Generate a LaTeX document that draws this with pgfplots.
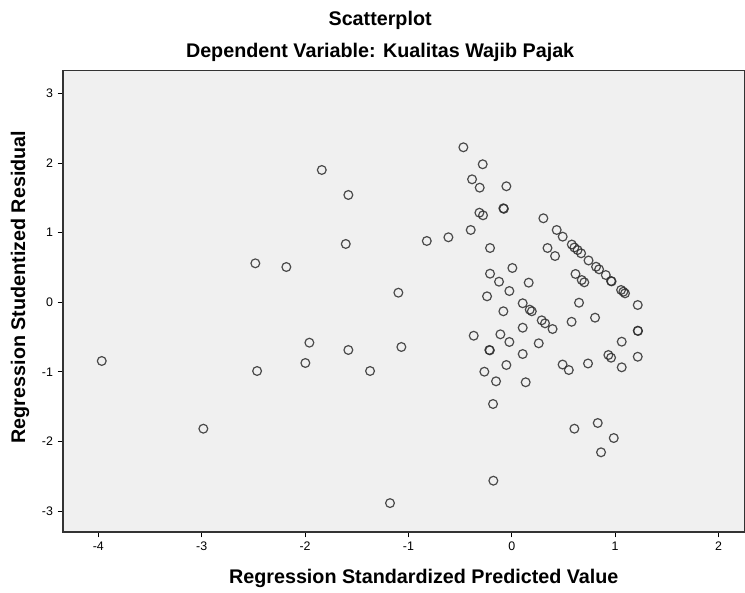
\documentclass[border=0pt]{standalone}
\usepackage{fontspec}
\setmainfont{Liberation Sans}
\usepackage{pgfplots}
\pgfplotsset{compat=1.18}
\definecolor{bgc}{RGB}{240,240,240}
\definecolor{mk}{RGB}{45,45,45}
\begin{document}
\begin{tikzpicture}
\useasboundingbox (-47.25pt,-45pt) rectangle (511.5pt,399pt);
\begin{axis}[
  at={(0,0)}, anchor=south west,
  scale only axis, width=511.5pt, height=346pt,
  xmin=-4.342, xmax=2.257, ymin=-3.300, ymax=3.328,
  xtick={-4,-3,-2,-1,0,1,2}, ytick={-3,-2,-1,0,1,2,3},
  tick align=outside, tick pos=left,
  major tick length=4pt,
  axis background/.style={fill=bgc},
  axis line style={black!80, line width=0.8pt},
  tick style={black, line width=0.8pt},
  ticklabel style={font=\fontsize{9.3}{10}\selectfont},
  /pgf/number format/assume math mode=true,
  clip=false,
  title={Scatterplot},
  title style={font=\bfseries\fontsize{14.8}{16}\selectfont, at={(axis description cs:0.465,1.092)}, anchor=center},
  xlabel={Regression Standardized Predicted Value},
  ylabel={Regression Studentized Residual},
  label style={font=\bfseries\fontsize{14.8}{16}\selectfont},
  xlabel style={at={(axis description cs:0.529,-0.0997)}, anchor=center},
  ylabel style={at={(axis description cs:-0.063,0.531)}, anchor=center},
]
\addplot[only marks, mark=o, mark size=3.3pt, mark options={draw=mk, line width=0.9pt, draw opacity=0.85}] table {
x y
-3.967 -0.843
-2.984 -1.816
-2.481 0.560
-2.464 -0.987
-2.181 0.507
-1.838 1.901
-1.958 -0.580
-1.997 -0.872
-1.581 1.542
-1.606 0.838
-1.581 -0.685
-1.371 -0.987
-1.097 0.138
-1.068 -0.642
-1.178 -2.885
-0.822 0.881
-0.613 0.934
-0.468 2.227
-0.281 1.983
-0.384 1.767
-0.310 1.647
-0.052 1.667
-0.313 1.287
-0.278 1.250
-0.081 1.351
-0.076 1.343
0.306 1.207
0.435 1.039
0.493 0.943
-0.397 1.039
-0.210 0.780
0.346 0.780
0.419 0.665
0.581 0.830
0.606 0.787
0.637 0.751
0.671 0.704
0.743 0.601
0.816 0.511
0.845 0.474
0.910 0.392
0.961 0.306
0.966 0.300
1.058 0.177
1.080 0.152
1.096 0.129
1.219 -0.039
0.617 0.407
0.677 0.320
0.702 0.287
0.006 0.493
-0.210 0.411
-0.123 0.296
0.164 0.282
-0.023 0.162
-0.239 0.086
0.651 -0.006
0.106 -0.014
0.174 -0.106
0.194 -0.129
-0.081 -0.129
0.290 -0.259
0.322 -0.302
0.395 -0.384
0.579 -0.280
0.106 -0.365
-0.110 -0.460
-0.368 -0.480
-0.023 -0.570
-0.217 -0.685
-0.212 -0.690
0.261 -0.589
0.106 -0.743
-0.052 -0.901
0.492 -0.894
0.552 -0.973
0.738 -0.879
-0.265 -0.997
-0.152 -1.135
0.135 -1.149
-0.181 -1.461
0.606 -1.816
0.806 -0.221
1.219 -0.408
1.222 -0.412
1.064 -0.566
0.935 -0.757
0.961 -0.796
1.219 -0.782
1.064 -0.934
0.832 -1.734
0.987 -1.950
0.864 -2.155
-0.178 -2.563
};
\node[font=\bfseries\fontsize{14.8}{16}\selectfont, anchor=center] at (rel axis cs:0.465,1.040) {Dependent Variable: Kualitas Wajib Pajak};
\end{axis}
\end{tikzpicture}
\end{document}
